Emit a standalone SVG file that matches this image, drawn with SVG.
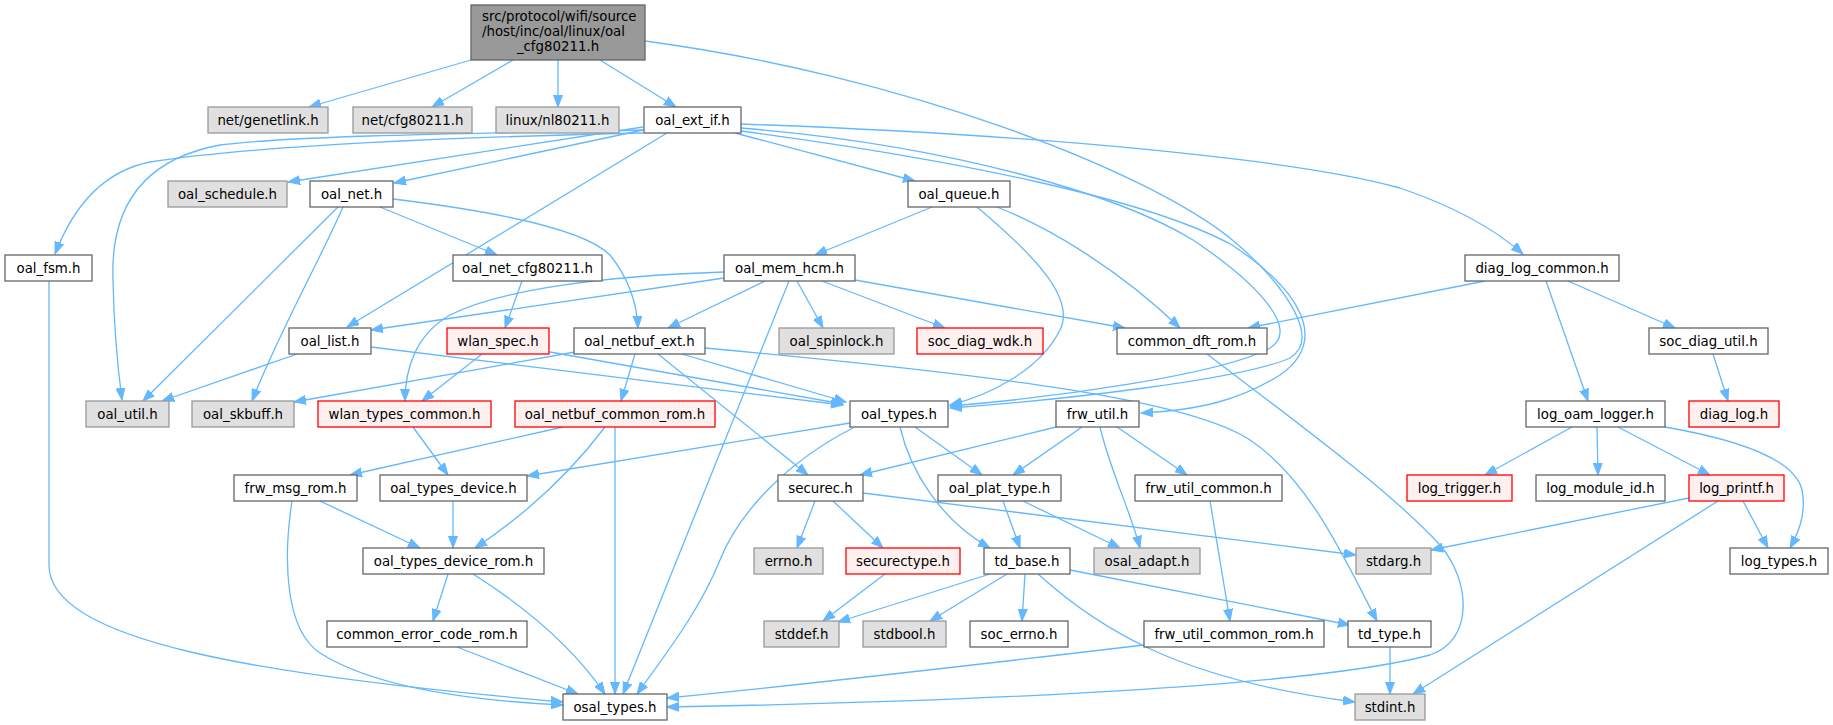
<svg xmlns="http://www.w3.org/2000/svg" width="1833" height="725" viewBox="0 0 1833 725">
<defs>
<marker id="arr" markerUnits="userSpaceOnUse" markerWidth="13" markerHeight="10" viewBox="0 0 13 10" refX="12" refY="5" orient="auto">
<path d="M0,0.5 L12,5 L0,9.5 Z" fill="#63b8ff" stroke="#63b8ff" stroke-width="1"/>
</marker>
<style>
.e{fill:none;stroke:#63b8ff;stroke-width:1.3;marker-end:url(#arr)}
rect{stroke-width:1.3}
.w rect{fill:#ffffff;stroke:#666666}
.g rect{fill:#e0e0e0;stroke:#999999}
.r rect{fill:#fff0f0;stroke:#ff0000}
.root rect{fill:#999999;stroke:#666666}
text{font-family:"DejaVu Sans","Liberation Sans",sans-serif;font-size:13.33px;fill:#000000;text-anchor:middle}
</style>
</defs>
<rect width="1833" height="725" fill="#ffffff"/>
<g id="connectors">
<path class="e" d="M471,60 L309,107"/>
<path class="e" d="M513,60 L432,107"/>
<path class="e" d="M558,60 L558,107"/>
<path class="e" d="M600,60 L676,107"/>
<path class="e" d="M645,41 C900,75 1150,170 1236,243 C1290,290 1320,340 1290,358 C1240,380 1060,400 950,408"/>
<path class="e" d="M643,133 C420,138 240,148 150,162 C100,172 72,210 55,254"/>
<path class="e" d="M643,130 C500,133 300,135 220,145 C150,158 110,200 113,280 C114,330 118,370 122,400"/>
<path class="e" d="M643,127 L288,182"/>
<path class="e" d="M643,130 L394,183"/>
<path class="e" d="M667,133 L347,327"/>
<path class="e" d="M735,133 L915,181"/>
<path class="e" d="M741,124 C1050,135 1300,160 1400,188 C1450,205 1490,225 1523,254"/>
<path class="e" d="M741,128 C950,145 1120,195 1193,240 C1260,285 1300,330 1270,348 C1220,375 1050,398 950,406"/>
<path class="e" d="M741,131 C960,160 1150,200 1232,245 C1300,290 1330,340 1280,375 C1240,400 1200,410 1141,413"/>
<path class="e" d="M380,207 L497,255"/>
<path class="e" d="M393,199 C500,212 585,230 610,255 C630,280 637,305 638,328"/>
<path class="e" d="M338,207 L143,401"/>
<path class="e" d="M343,207 C320,260 280,330 252,401"/>
<path class="e" d="M522,281 L505,328"/>
<path class="e" d="M932,207 L815,255"/>
<path class="e" d="M977,207 C1040,260 1075,300 1060,330 C1040,370 990,395 950,405"/>
<path class="e" d="M997,207 C1050,228 1120,270 1180,328"/>
<path class="e" d="M724,278 L371,330"/>
<path class="e" d="M724,272 C600,276 500,290 450,315 C415,335 405,370 405,401"/>
<path class="e" d="M765,281 L668,328"/>
<path class="e" d="M797,281 L823,328"/>
<path class="e" d="M822,281 L945,328"/>
<path class="e" d="M855,280 L1125,328"/>
<path class="e" d="M789,281 L623,694"/>
<path class="e" d="M1485,281 L1248,328"/>
<path class="e" d="M1546,281 L1588,401"/>
<path class="e" d="M1568,281 L1675,328"/>
<path class="e" d="M297,354 L162,401"/>
<path class="e" d="M371,347 L843,405"/>
<path class="e" d="M482,354 L422,401"/>
<path class="e" d="M550,352 L843,404"/>
<path class="e" d="M635,354 L621,401"/>
<path class="e" d="M682,354 L846,402"/>
<path class="e" d="M658,354 L808,475"/>
<path class="e" d="M575,352 L294,402"/>
<path class="e" d="M705,348 C1000,375 1190,400 1250,440 C1310,480 1345,560 1377,621"/>
<path class="e" d="M1713,354 L1728,401"/>
<path class="e" d="M413,427 L448,475"/>
<path class="e" d="M563,427 L350,475"/>
<path class="e" d="M605,427 C580,460 540,505 475,548"/>
<path class="e" d="M615,427 L615,694"/>
<path class="e" d="M850,423 L527,476"/>
<path class="e" d="M853,428 C790,460 740,510 720,560 C700,610 665,655 637,694"/>
<path class="e" d="M915,427 L982,475"/>
<path class="e" d="M900,427 C910,470 940,520 990,548"/>
<path class="e" d="M1056,427 L860,475"/>
<path class="e" d="M1082,427 L1013,475"/>
<path class="e" d="M1100,427 C1110,470 1130,510 1140,548"/>
<path class="e" d="M1117,427 L1187,475"/>
<path class="e" d="M1572,427 L1485,475"/>
<path class="e" d="M1597,427 L1598,475"/>
<path class="e" d="M1618,427 L1710,475"/>
<path class="e" d="M1665,427 C1740,440 1795,460 1802,490 C1807,515 1797,535 1790,548"/>
<path class="e" d="M453,501 L453,548"/>
<path class="e" d="M320,501 L420,548"/>
<path class="e" d="M292,501 C283,560 285,630 320,653 C370,685 460,700 563,705"/>
<path class="e" d="M49,281 L49,565 C49,640 250,675 563,702"/>
<path class="e" d="M448,574 L433,621"/>
<path class="e" d="M473,574 C530,610 575,650 605,694"/>
<path class="e" d="M457,647 L578,694"/>
<path class="e" d="M815,501 L797,548"/>
<path class="e" d="M833,501 L883,548"/>
<path class="e" d="M863,493 L1356,555"/>
<path class="e" d="M885,574 L823,621"/>
<path class="e" d="M1003,501 L1020,548"/>
<path class="e" d="M1023,501 L1120,548"/>
<path class="e" d="M1210,501 L1230,621"/>
<path class="e" d="M990,574 L838,622"/>
<path class="e" d="M1007,574 L930,621"/>
<path class="e" d="M1025,574 L1022,621"/>
<path class="e" d="M1070,570 L1350,625"/>
<path class="e" d="M1038,574 C1100,630 1180,680 1355,702"/>
<path class="e" d="M1144,645 C1000,662 800,685 667,698"/>
<path class="e" d="M1207,354 C1280,410 1390,490 1440,545 C1470,580 1475,640 1430,655 C1300,690 900,703 667,707"/>
<path class="e" d="M1689,498 L1431,550"/>
<path class="e" d="M1718,501 L1413,694"/>
<path class="e" d="M1743,501 L1768,548"/>
<path class="e" d="M1390,647 L1390,694"/>
</g>
<g id="root" class="root"><rect x="471" y="5" width="174" height="55"/>
<text x="482" y="21" style="text-anchor:start">src/protocol/wifi/source</text>
<text x="482" y="36" style="text-anchor:start">/host/inc/oal/linux/oal</text>
<text x="558" y="51">_cfg80211.h</text></g>
<g id="net_genetlink" class="g"><rect x="208" y="107" width="120" height="26"/><text x="268" y="124.5">net/genetlink.h</text></g>
<g id="net_cfg80211" class="g"><rect x="353" y="107" width="119" height="26"/><text x="412.5" y="124.5">net/cfg80211.h</text></g>
<g id="linux_nl80211" class="g"><rect x="496" y="107" width="123" height="26"/><text x="557.5" y="124.5">linux/nl80211.h</text></g>
<g id="oal_ext_if" class="w"><rect x="644" y="107" width="97" height="26"/><text x="692.5" y="124.5">oal_ext_if.h</text></g>
<g id="oal_schedule" class="g"><rect x="168" y="181" width="119" height="26"/><text x="227.5" y="198.5">oal_schedule.h</text></g>
<g id="oal_net" class="w"><rect x="310" y="181" width="83" height="26"/><text x="351.5" y="198.5">oal_net.h</text></g>
<g id="oal_queue" class="w"><rect x="908" y="181" width="102" height="26"/><text x="959" y="198.5">oal_queue.h</text></g>
<g id="oal_fsm" class="w"><rect x="5" y="255" width="87" height="26"/><text x="48.5" y="272.5">oal_fsm.h</text></g>
<g id="oal_net_cfg80211" class="w"><rect x="453" y="255" width="149" height="26"/><text x="527.5" y="272.5">oal_net_cfg80211.h</text></g>
<g id="oal_mem_hcm" class="w"><rect x="724" y="255" width="131" height="26"/><text x="789.5" y="272.5">oal_mem_hcm.h</text></g>
<g id="diag_log_common" class="w"><rect x="1465" y="255" width="154" height="26"/><text x="1542" y="272.5">diag_log_common.h</text></g>
<g id="oal_list" class="w"><rect x="289" y="328" width="82" height="26"/><text x="330" y="345.5">oal_list.h</text></g>
<g id="wlan_spec" class="r"><rect x="447" y="328" width="102" height="26"/><text x="498" y="345.5">wlan_spec.h</text></g>
<g id="oal_netbuf_ext" class="w"><rect x="574" y="328" width="131" height="26"/><text x="639.5" y="345.5">oal_netbuf_ext.h</text></g>
<g id="oal_spinlock" class="g"><rect x="779" y="328" width="115" height="26"/><text x="836.5" y="345.5">oal_spinlock.h</text></g>
<g id="soc_diag_wdk" class="r"><rect x="917" y="328" width="126" height="26"/><text x="980" y="345.5">soc_diag_wdk.h</text></g>
<g id="common_dft_rom" class="w"><rect x="1117" y="328" width="150" height="26"/><text x="1192" y="345.5">common_dft_rom.h</text></g>
<g id="soc_diag_util" class="w"><rect x="1649" y="328" width="119" height="26"/><text x="1708.5" y="345.5">soc_diag_util.h</text></g>
<g id="oal_util" class="g"><rect x="86" y="401" width="83" height="26"/><text x="127.5" y="418.5">oal_util.h</text></g>
<g id="oal_skbuff" class="g"><rect x="192" y="401" width="102" height="26"/><text x="243" y="418.5">oal_skbuff.h</text></g>
<g id="wlan_types_common" class="r"><rect x="318" y="401" width="173" height="26"/><text x="404.5" y="418.5">wlan_types_common.h</text></g>
<g id="oal_netbuf_common_rom" class="r"><rect x="515" y="401" width="200" height="26"/><text x="615" y="418.5">oal_netbuf_common_rom.h</text></g>
<g id="oal_types" class="w"><rect x="850" y="401" width="98" height="26"/><text x="899" y="418.5">oal_types.h</text></g>
<g id="frw_util" class="w"><rect x="1056" y="401" width="83" height="26"/><text x="1097.5" y="418.5">frw_util.h</text></g>
<g id="log_oam_logger" class="w"><rect x="1526" y="401" width="139" height="26"/><text x="1595.5" y="418.5">log_oam_logger.h</text></g>
<g id="diag_log" class="r"><rect x="1689" y="401" width="90" height="26"/><text x="1734" y="418.5">diag_log.h</text></g>
<g id="frw_msg_rom" class="w"><rect x="234" y="475" width="123" height="26"/><text x="295.5" y="492.5">frw_msg_rom.h</text></g>
<g id="oal_types_device" class="w"><rect x="380" y="475" width="147" height="26"/><text x="453.5" y="492.5">oal_types_device.h</text></g>
<g id="securec" class="w"><rect x="778" y="475" width="85" height="26"/><text x="820.5" y="492.5">securec.h</text></g>
<g id="oal_plat_type" class="w"><rect x="938" y="475" width="123" height="26"/><text x="999.5" y="492.5">oal_plat_type.h</text></g>
<g id="frw_util_common" class="w"><rect x="1135" y="475" width="147" height="26"/><text x="1208.5" y="492.5">frw_util_common.h</text></g>
<g id="log_trigger" class="r"><rect x="1407" y="475" width="105" height="26"/><text x="1459.5" y="492.5">log_trigger.h</text></g>
<g id="log_module_id" class="w"><rect x="1536" y="475" width="129" height="26"/><text x="1600.5" y="492.5">log_module_id.h</text></g>
<g id="log_printf" class="r"><rect x="1689" y="475" width="95" height="26"/><text x="1736.5" y="492.5">log_printf.h</text></g>
<g id="oal_types_device_rom" class="w"><rect x="363" y="548" width="181" height="26"/><text x="453.5" y="565.5">oal_types_device_rom.h</text></g>
<g id="errno" class="g"><rect x="754" y="548" width="69" height="26"/><text x="788.5" y="565.5">errno.h</text></g>
<g id="securectype" class="r"><rect x="846" y="548" width="114" height="26"/><text x="903" y="565.5">securectype.h</text></g>
<g id="td_base" class="w"><rect x="984" y="548" width="86" height="26"/><text x="1027" y="565.5">td_base.h</text></g>
<g id="osal_adapt" class="g"><rect x="1094" y="548" width="106" height="26"/><text x="1147" y="565.5">osal_adapt.h</text></g>
<g id="stdarg" class="g"><rect x="1356" y="548" width="75" height="26"/><text x="1393.5" y="565.5">stdarg.h</text></g>
<g id="log_types" class="w"><rect x="1730" y="548" width="98" height="26"/><text x="1779" y="565.5">log_types.h</text></g>
<g id="common_error_code_rom" class="w"><rect x="327" y="621" width="200" height="26"/><text x="427" y="638.5">common_error_code_rom.h</text></g>
<g id="stddef" class="g"><rect x="764" y="621" width="75" height="26"/><text x="801.5" y="638.5">stddef.h</text></g>
<g id="stdbool" class="g"><rect x="863" y="621" width="83" height="26"/><text x="904.5" y="638.5">stdbool.h</text></g>
<g id="soc_errno" class="w"><rect x="970" y="621" width="98" height="26"/><text x="1019" y="638.5">soc_errno.h</text></g>
<g id="frw_util_common_rom" class="w"><rect x="1144" y="621" width="180" height="26"/><text x="1234" y="638.5">frw_util_common_rom.h</text></g>
<g id="td_type" class="w"><rect x="1348" y="621" width="83" height="26"/><text x="1389.5" y="638.5">td_type.h</text></g>
<g id="osal_types" class="w"><rect x="563" y="694" width="104" height="26"/><text x="615" y="711.5">osal_types.h</text></g>
<g id="stdint" class="g"><rect x="1355" y="694" width="70" height="26"/><text x="1390" y="711.5">stdint.h</text></g>
</svg>
